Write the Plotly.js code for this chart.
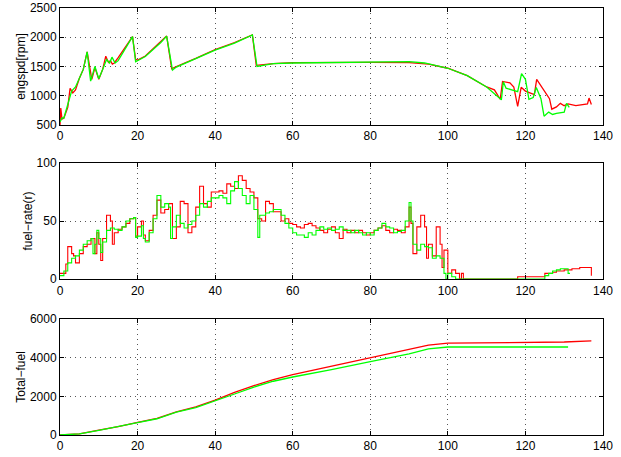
<!DOCTYPE html>
<html>
<head>
<meta charset="utf-8">
<script src="https://cdn.plot.ly/plotly-3.0.1.min.js"></script>
<style>html,body{margin:0;padding:0;background:#fff;}#chart{width:621px;height:457px;}</style>
</head>
<body>
<div id="chart"></div>
<script>
// Engine speed (top panel)
var spdRedT = [0,0.2,0.5,1,2,2.6,3.3,4,5,6,7,8.2,9,10,11,11.8,12.5,13,13.5,14,15,16,17,18,18.7,19.5,20,22,24,26,27.5,28.8,30,35,40,45,49.6,50.6,55,60,70,80,90,95,100,105,110,112,113.5,114.1,116,117,118,118.9,120,122.3,122.9,124,126.2,126.8,128,129,130,131,133,136,136.4,137];
var spdRed  = [500,790,600,620,800,1125,1050,1100,1300,1450,1750,1280,1480,1280,1450,1675,1570,1600,1540,1560,1650,1750,1850,1950,2010,1620,1610,1680,1800,1920,2020,1460,1500,1640,1790,1910,2040,1520,1550,1565,1570,1570,1565,1540,1470,1345,1150,1100,940,1245,1220,1150,820,1145,1080,1020,1280,1170,950,770,810,870,830,860,830,860,960,850];
var spdGrnT = [0,0.5,1,3,4,5,6,7,7.9,9,10,11,12,12.8,13.4,14.2,15,18.7,19.5,22,24,26,27.5,29,30,35,40,45,49.6,50.8,55,60,70,80,90,94,100,105,110,113.8,114.3,115,118,119,120,120.9,122,122.8,124,124.8,126,127,128,130,130.6,131.3];
var spdGrn  = [550,620,620,1080,1150,1300,1450,1750,1250,1500,1290,1450,1620,1560,1660,1560,1600,2010,1580,1670,1790,1910,2020,1440,1490,1630,1780,1900,2040,1500,1550,1560,1570,1570,1585,1560,1470,1345,1150,930,1240,1130,1070,1380,1280,940,970,1140,950,650,720,680,700,720,870,800];

// Fuel rate (middle panel, stepped)
var rateRedT = [0,1,1.5,2,3,3.5,4,5,6,7,8,9,9.5,10,10.5,11,12,13,13.5,14,15,16,17,18,19,19.5,20,21,21.5,22,23,24,25,26,27,28,29,30,31,32,33,34,35,36,37,38,39,40,41,42,43,44,45,46,47,48,49,50,51,52,53,54,55,56,57,58,59,60,61,62,63,64,65,66,67,68,69,70,71,72,73,74,75,76,77,78,79,80,81,82,83,84,85,86,87,88,89,90,90.5,91,92,93,94,94.5,95,96,97,98,98.5,99,100,101,102,103,103.5,104,110,118,120,124,125,126,127,128,130,132,134,136,137];
var rateRed  = [5,5,13,28,22,20,14,22,28,30,35,22,40,30,16,35,55,50,30,40,43,45,48,52,53,37,45,50,38,33,42,55,68,57,60,65,35,45,67,65,40,45,62,80,65,62,75,75,76,74,82,80,78,89,85,78,75,70,52,50,67,65,58,58,50,52,48,47,45,44,47,48,46,44,42,40,43,45,40,35,43,40,42,40,42,40,38,40,42,44,46,42,40,43,42,40,45,62,48,22,45,55,45,18,30,20,45,30,10,25,5,8,5,0,5,0,0,2,2,2,5,5,6,7,8,9,10,10,3];
var rateGrnT = [0,1,2,3,4,5,6,7,8,8.5,9,9.5,10,10.5,11,12,13,14,15,16,17,18,19,19.5,20,21,21.5,22,23,24,25,26,27,28,28.5,29,30,31,32,33,34,35,36,37,38,39,40,41,42,43,44,45,46,47,48,49,50,51,51.5,52,53,54,55,56,57,58,59,60,61,62,63,64,65,66,67,68,69,70,71,72,73,74,75,76,77,78,79,80,81,82,83,84,85,86,87,88,89,90,90.5,91,92,93,94,95,96,97,98,99,99.5,100,101,102,110,124,125,126,127,128,129,130,131,131.5];
var rateGrn  = [3,7,14,18,20,25,30,33,35,22,30,42,35,23,32,42,44,43,42,45,50,52,53,36,37,46,35,32,40,52,72,62,65,62,35,45,55,48,44,47,50,55,65,62,67,70,70,72,70,65,76,84,78,72,65,72,60,36,55,55,57,58,60,60,55,48,44,40,38,38,36,40,38,42,45,43,44,42,43,45,42,42,40,42,40,38,40,38,42,44,48,45,44,40,41,42,50,66,50,30,25,30,28,27,18,20,18,5,0,5,2,0,0,0,3,5,7,8,9,9,5,5];

// Total fuel (bottom panel)
var totRedT = [0,5,10,15,20,25,30,35,40,45,50,55,60,70,80,90,95,100,110,120,130,137];
var totRed  = [0,60,250,430,650,860,1200,1450,1800,2200,2550,2860,3120,3560,4010,4450,4650,4750,4780,4780,4810,4870];
var totGrnT = [0,5,10,15,20,25,30,35,40,45,50,55,60,70,80,90,95,100,110,120,131];
var totGrn  = [0,55,240,420,640,840,1180,1420,1750,2120,2480,2780,3000,3380,3800,4200,4450,4550,4550,4550,4550];

var xTicks = [0,20,40,60,80,100,120,140];

var RED = '#ff0000', GRN = '#00ff00';
var traces = [
  {x: spdRedT, y: spdRed, type:'scatter', mode:'lines', line:{color:RED, width:1.3}, xaxis:'x', yaxis:'y'},
  {x: spdGrnT, y: spdGrn, type:'scatter', mode:'lines', line:{color:GRN, width:1.3}, xaxis:'x', yaxis:'y'},
  {x: rateRedT, y: rateRed, type:'scatter', mode:'lines', line:{color:RED, width:1.1, shape:'hv'}, xaxis:'x2', yaxis:'y2'},
  {x: rateGrnT, y: rateGrn, type:'scatter', mode:'lines', line:{color:GRN, width:1.1, shape:'hv'}, xaxis:'x2', yaxis:'y2'},
  {x: totRedT, y: totRed, type:'scatter', mode:'lines', line:{color:RED, width:1.3}, xaxis:'x3', yaxis:'y3'},
  {x: totGrnT, y: totGrn, type:'scatter', mode:'lines', line:{color:GRN, width:1.3}, xaxis:'x3', yaxis:'y3'}
];

var font = {family:'Liberation Sans, Arial, sans-serif', size:12, color:'#000'};
function xa(anchor){
  return {anchor:anchor, range:[0,140], tickvals:xTicks, ticktext:xTicks.map(String),
    showline:true, linecolor:'#000', linewidth:1, mirror:'allticks', ticks:'inside', ticklen:4, tickcolor:'#000',
    showgrid:true, gridcolor:'#555', griddash:'1px,4px', gridwidth:1, zeroline:false, tickfont:font};
}
function ya(anchor, dom, rng, dt, title){
  return {anchor:anchor, domain:dom, range:rng, dtick:dt, tick0:rng[0],
    showline:true, linecolor:'#000', linewidth:1, mirror:'allticks', ticks:'inside', ticklen:4, tickcolor:'#000',
    showgrid:true, gridcolor:'#555', griddash:'1px,4px', gridwidth:1, zeroline:false, tickfont:font,
    title:{text:title, font:font, standoff:1}};
}
var layout = {
  width:621, height:457, showlegend:false,
  paper_bgcolor:'#fff', plot_bgcolor:'#fff',
  margin:{l:60, r:18, t:8, b:22},
  font:font,
  xaxis: xa('y'), xaxis2: xa('y2'), xaxis3: xa('y3'),
  yaxis: ya('x', [0.726,1], [500,2500], 500, 'engspd[rpm]'),
  yaxis2: ya('x2', [0.365,0.637], [0,100], 50, 'fuel\u2212rate(r)'),
  yaxis3: ya('x3', [0,0.2717], [0,6000], 2000, 'Total\u2212fuel')
};
Plotly.newPlot('chart', traces, layout, {staticPlot:true});
</script>
</body>
</html>
